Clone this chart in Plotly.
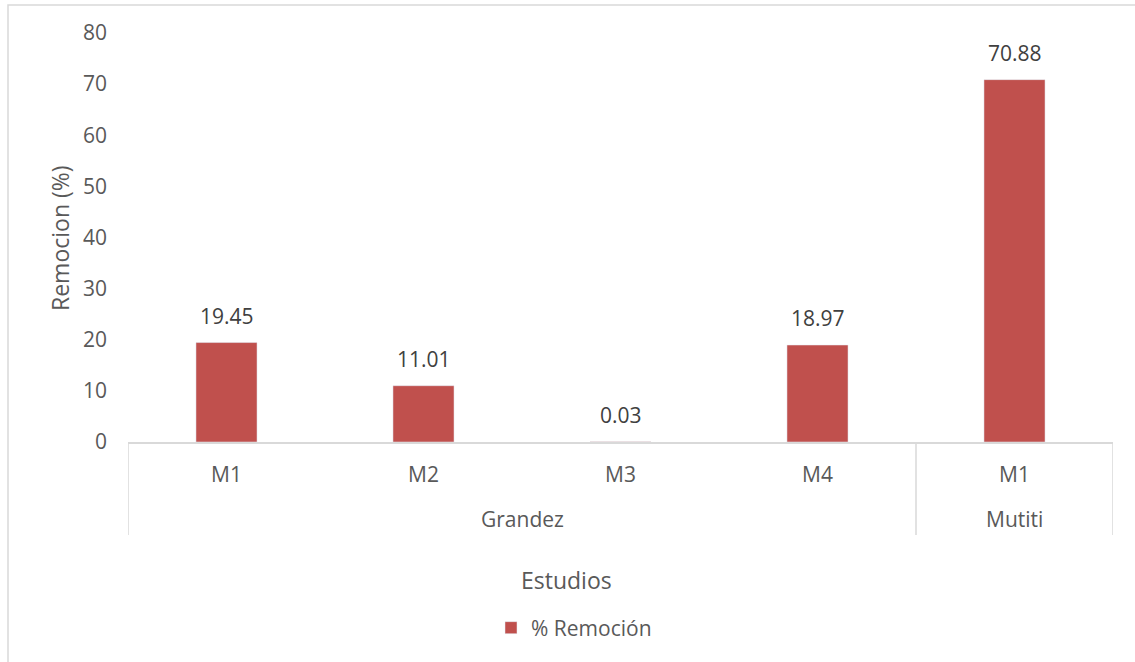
import plotly.graph_objects as go

inner = ["M1", "M2", "M3", "M4", "M1"]
outer = ["Grandez", "Grandez", "Grandez", "Grandez", "Mutiti"]
values = [19.45, 11.01, 0.03, 18.97, 70.88]
series_name = "% Remoción"
y_ticks = [0, 10, 20, 30, 40, 50, 60, 70, 80]

FONT = "Open Sans"
GRAY = "#595959"
LINE = "#D9D9D9"
BAR = "#C0504D"

L, R, T, B = 128, 22, 33, 220
W, H = 1135, 662
pw, ph = W - L - R, H - T - B

def px_x(px):
    return (px - L) / pw

def px_y(py):
    return (H - B - py) / ph

x = list(range(len(values)))

fig = go.Figure()
fig.add_trace(go.Bar(x=x, y=values, name=series_name, marker_color=BAR,
                     width=0.31, showlegend=True))

annotations = []
# data labels
for i, v in enumerate(values):
    annotations.append(dict(x=i, y=v, xref="x", yref="y", text=f"{v:.2f}",
                            showarrow=False, yanchor="bottom", yshift=11,
                            font=dict(family=FONT, size=21, color="#404040")))
# inner labels
for i, lab in enumerate(inner):
    annotations.append(dict(x=i, y=px_y(474), xref="x", yref="paper", text=lab,
                            showarrow=False, yanchor="middle",
                            font=dict(family=FONT, size=21, color=GRAY)))
# outer group labels and dividers
groups = []
for i, g in enumerate(outer):
    if not groups or groups[-1][0] != g:
        groups.append([g, i, i])
    else:
        groups[-1][2] = i
shapes = []
for g, s, e in groups:
    annotations.append(dict(x=(s + e) / 2, y=px_y(519), xref="x", yref="paper", text=g,
                            showarrow=False, yanchor="middle",
                            font=dict(family=FONT, size=21, color=GRAY)))
bounds = [groups[0][1] - 0.5] + [e + 0.5 for _, _, e in groups]
for b in bounds:
    shapes.append(dict(type="line", xref="x", yref="paper", x0=b, x1=b,
                       y0=0, y1=px_y(535), line=dict(color=LINE, width=1.5)))
# axis titles
annotations.append(dict(x=px_x(566), y=px_y(580), xref="paper", yref="paper",
                        text="Estudios", showarrow=False, yanchor="middle",
                        font=dict(family=FONT, size=23, color=GRAY)))
annotations.append(dict(x=px_x(60), y=px_y(238), xref="paper", yref="paper",
                        text="Remocion (%)", showarrow=False, textangle=-90,
                        xanchor="center", yanchor="middle",
                        font=dict(family=FONT, size=23, color=GRAY)))
# chart frame
shapes.append(dict(type="rect", xref="paper", yref="paper", x0=px_x(8), x1=px_x(1200),
                   y0=px_y(700), y1=px_y(5), line=dict(color=LINE, width=1.5),
                   fillcolor="rgba(0,0,0,0)", layer="below"))

fig.update_layout(
    width=W, height=H,
    margin=dict(l=L, r=R, t=T, b=B),
    paper_bgcolor="white", plot_bgcolor="white",
    bargap=0.69,
    xaxis=dict(range=[-0.5, len(values) - 0.5], showticklabels=False, showgrid=False,
               zeroline=False, showline=True, linecolor=LINE, linewidth=1.5, ticks=""),
    yaxis=dict(range=[0, 80], tickvals=y_ticks, showgrid=False, zeroline=False,
               showline=False, ticks="", ticklabelstandoff=20,
               tickfont=dict(family=FONT, size=21, color=GRAY)),
    legend=dict(orientation="h", x=px_x(574), xanchor="center", y=px_y(628),
                yanchor="middle", font=dict(family=FONT, size=21, color=GRAY),
                itemclick=False),
    annotations=annotations,
    shapes=shapes,
)

fig.write_html("out.html")
